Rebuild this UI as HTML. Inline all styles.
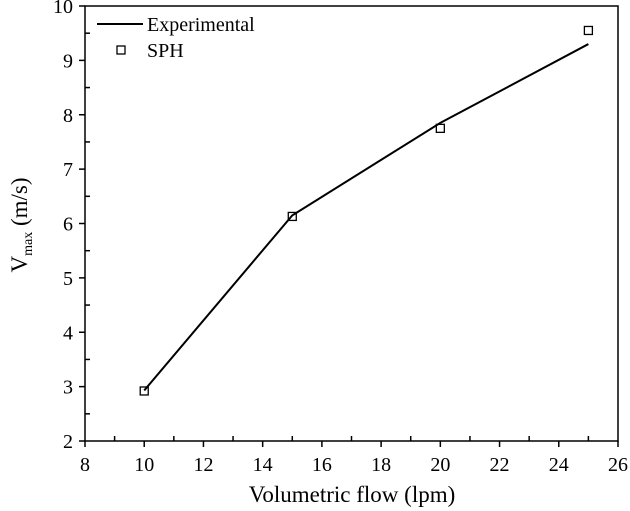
<!DOCTYPE html>
<html><head><meta charset="utf-8"><style>
body{margin:0;background:#fff}
svg{display:block;font-family:"Liberation Serif",serif}
</style></head><body>
<svg id="chart" width="630" height="511">
<rect x="85" y="6" width="533" height="435" fill="none" stroke="#000" stroke-width="1.5"/>
<g id="axes"></g>
<g id="series"></g>
<g>
<line x1="97" y1="24" x2="143" y2="24" stroke="#000" stroke-width="2"/>
<text x="147" y="31" font-size="20">Experimental</text>
<rect x="117" y="46" width="8" height="8" fill="none" stroke="#000" stroke-width="1.3"/>
<text x="147" y="57" font-size="20">SPH</text>
</g>
<text x="352" y="502" font-size="23" text-anchor="middle">Volumetric flow (lpm)</text>
<text transform="translate(27,225) rotate(-90)" font-size="23" text-anchor="middle">V<tspan font-size="14" dy="5">max</tspan><tspan dy="-5"> (m/s)</tspan></text>
</svg>
<script>
const xTicks=[8,10,12,14,16,18,20,22,24,26];
const yTicks=[2,3,4,5,6,7,8,9,10];
const flows=[10,15,20,25];
const experimental=[2.93,6.15,7.85,9.3];
const sph=[2.92,6.13,7.75,9.55];
const NS="http://www.w3.org/2000/svg";
const X=v=>85+(v-8)*(533/18);
const Y=v=>441-(v-2)*(435/8);
const axes=document.getElementById('axes'),series=document.getElementById('series');
function mk(t,a,p){const e=document.createElementNS(NS,t);for(const k in a)e.setAttribute(k,a[k]);p.appendChild(e);return e;}
xTicks.forEach((v,i)=>{
 const l=mk('line',{x1:X(v),x2:X(v),y1:441,y2:447,stroke:'#000','stroke-width':1.5},axes);
 
 
 if(i<xTicks.length-1){const m=mk('line',{x1:X(v+1),x2:X(v+1),y1:441,y2:436,stroke:'#000','stroke-width':1.5},axes);
 
 }
 const t=mk('text',{x:X(v),y:471,'font-size':20,'text-anchor':'middle'},axes);t.textContent=v;
 
 
});
yTicks.forEach((v,i)=>{
 const l=mk('line',{x1:79,x2:85,y1:Y(v),y2:Y(v),stroke:'#000','stroke-width':1.5},axes);
 
 
 if(i<yTicks.length-1){const m=mk('line',{x1:85,x2:90,y1:Y(v+0.5),y2:Y(v+0.5),stroke:'#000','stroke-width':1.5},axes);
 
 }
 const t=mk('text',{x:73,y:Y(v)+7,'font-size':20,'text-anchor':'end'},axes);t.textContent=v;
 
 
});
const pl=mk('polyline',{points:flows.map((f,i)=>X(f)+','+Y(experimental[i])).join(' '),fill:'none',stroke:'#000','stroke-width':2},series);


flows.forEach((f,i)=>{
 const r=mk('rect',{x:X(f)-4,y:Y(sph[i])-4,width:8,height:8,fill:'none',stroke:'#000','stroke-width':1.3},series);
 
 
});
</script>
</body></html>
